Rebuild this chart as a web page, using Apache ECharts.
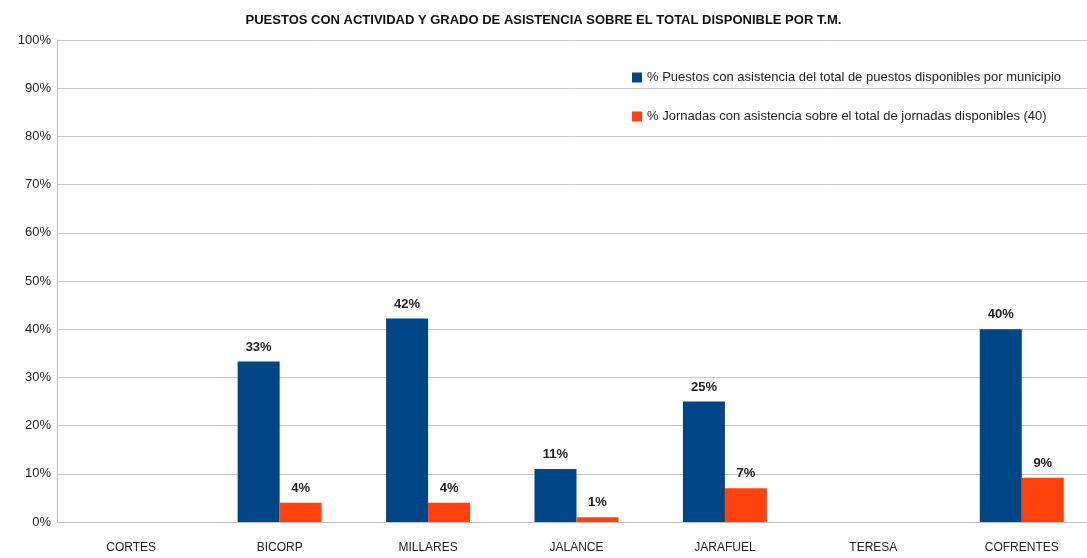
<!DOCTYPE html>
<html>
<head>
<meta charset="utf-8">
<script src="https://cdn.jsdelivr.net/npm/echarts@6/dist/echarts.min.js"></script>
<style>
  html, body { margin: 0; padding: 0; background: #fff; }
  #chart { width: 1087px; height: 558px; }
</style>
</head>
<body>
<div id="chart"></div>
<script>
// municipios
const categories = ['CORTES', 'BICORP', 'MILLARES', 'JALANCE', 'JARAFUEL', 'TERESA', 'COFRENTES']
const puestos = [null, 33.3, 42.2, 11, 25, null, 40]
const jornadas = [null, 4, 4, 1, 7, null, 9.2]
const seriesNames = [
  '% Puestos con asistencia del total de puestos disponibles por municipio',
  '% Jornadas con asistencia sobre el total de jornadas disponibles (40)'
]

const chart = echarts.init(document.getElementById('chart'))
const font = 'Liberation Sans, Arial, sans-serif'

const labelOpt = {
  show: true,
  position: 'top',
  distance: 8,
  color: '#222',
  fontWeight: 'bold',
  fontSize: 13,
  fontFamily: font,
  formatter: p => Math.round(p.value) + '%'
}

const option = {
  animation: false,
  title: {
    text: 'PUESTOS CON ACTIVIDAD Y GRADO DE ASISTENCIA SOBRE EL TOTAL DISPONIBLE POR T.M.',
    left: 'center',
    top: 9,
    textStyle: { fontSize: 13, fontWeight: 'bold', color: '#111', fontFamily: font }
  },
  legend: {
    orient: 'vertical',
    left: 627,
    top: 66,
    itemGap: 26,
    itemWidth: 10,
    itemHeight: 10,
    icon: 'rect',
    textStyle: { fontSize: 13, color: '#222', fontFamily: font },
    data: seriesNames
  },
  // plot runs a little past the right edge, like the original
  grid: { left: 57, width: 1039, top: 40, bottom: 36, outerBoundsMode: 'none' },
  xAxis: {
    type: 'category',
    data: categories,
    axisTick: { show: false },
    axisLine: { lineStyle: { color: '#c0c0c0', width: 1 } },
    axisLabel: { margin: 20, fontSize: 12, color: '#222', fontFamily: font }
  },
  yAxis: {
    type: 'value',
    min: 0,
    max: 100,
    interval: 10,
    axisLine: { show: true, lineStyle: { color: '#c0c0c0' } },
    axisLabel: { formatter: '{value}%', fontSize: 13, color: '#222', margin: 6, fontFamily: font },
    splitLine: { lineStyle: { color: '#c8c8c8' } }
  },
  series: [
    {
      name: seriesNames[0],
      type: 'bar',
      data: puestos,
      barWidth: 42,
      barGap: '0%',
      itemStyle: { color: '#004586' },
      label: labelOpt
    },
    {
      name: seriesNames[1],
      type: 'bar',
      data: jornadas,
      barWidth: 42,
      barGap: '0%',
      itemStyle: { color: '#ff420e' },
      label: labelOpt
    }
  ]
}

chart.setOption(option)
</script>
</body>
</html>
